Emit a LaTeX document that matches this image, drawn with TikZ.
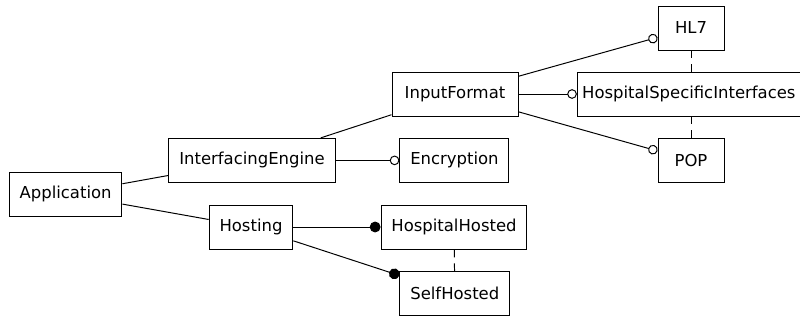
\documentclass[tikz,border=0pt]{standalone}
\usepackage{fontspec}
\setmainfont{DejaVu Sans}
\usetikzlibrary{arrows.meta, positioning}

\begin{document}
\begin{tikzpicture}[
  font=\fontsize{11.7}{14}\selectfont,
  feat/.style={draw=black, fill=white, line width=0.7pt,
               minimum width=1.65cm, minimum height=1.1cm,
               inner xsep=0.26cm, inner ysep=2pt},
  fmline/.style={draw=black, line width=0.7pt},
  opz/.style={fmline, -{Circle[open, length=0.24cm, width=0.24cm]}},
  obb/.style={fmline, -{Circle[length=0.27cm, width=0.27cm]}},
  alt/.style={fmline, dash pattern=on 0.2cm off 0.15cm}
]
\useasboundingbox (0,0) rectangle (20,8);

%--------------------------------------------------------------
% Radice e primo livello
%--------------------------------------------------------------
\node[feat] (application) at (1.64,3.15) {Application};
\node[feat] (engine) at (6.3,3.99) {InterfacingEngine};
\node[feat] (hosting) at (6.275,2.325) {Hosting};

%--------------------------------------------------------------
% Secondo livello
%--------------------------------------------------------------
\node[feat, minimum width=3.15cm] (inputformat) at (11.375,5.65) {InputFormat};
\node[feat] (encryption) at (11.36,3.99) {Encryption};
\node[feat] (hosphosted) at (11.35,2.325) {HospitalHosted};
\node[feat] (selfhosted) at (11.37,0.66) {SelfHosted};

%--------------------------------------------------------------
% Formati di ingresso
%--------------------------------------------------------------
\node[feat] (hlseven) at (17.275,7.3) {HL7};
\node[feat, inner xsep=0.12cm] (hospspec) at (17.22,5.65) {HospitalSpecificInterfaces};
\node[feat] (pop) at (17.275,3.99) {POP};

%--------------------------------------------------------------
% Collegamenti
%--------------------------------------------------------------
\draw[fmline] (application) -- (engine);
\draw[fmline] (application) -- (hosting);
\draw[fmline] (engine) -- (inputformat);
\draw[opz] (engine) -- (encryption);
\draw[opz] (inputformat) -- (hlseven);
\draw[opz] (inputformat) -- (hospspec);
\draw[opz] (inputformat) -- (pop);
\draw[obb] (hosting) -- (hosphosted);
\draw[obb] (hosting) -- (selfhosted);

%--------------------------------------------------------------
% Alternative (tratteggio)
%--------------------------------------------------------------
\draw[alt] (hlseven.south) -- (hlseven.south |- hospspec.north);
\draw[alt] (pop.north |- hospspec.south) -- (pop.north);
\draw[alt] (hosphosted) -- (selfhosted);

\end{tikzpicture}
\end{document}
